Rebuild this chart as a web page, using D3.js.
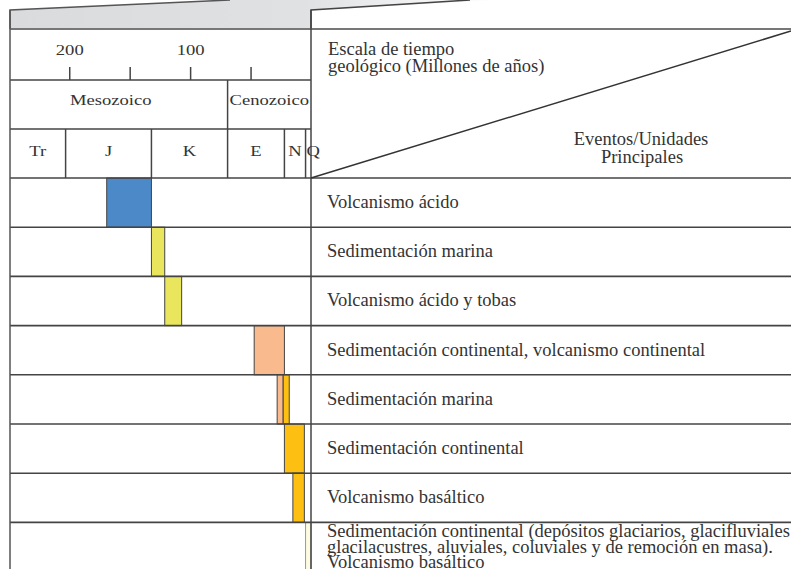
<!DOCTYPE html>
<html>
<head>
<meta charset="utf-8">
<script src="https://cdn.jsdelivr.net/npm/d3@7"></script>
<style>
  body { margin: 0; background: #fff; }
  text { font-family: "Liberation Serif", "Times New Roman", serif; fill: #333; }
</style>
</head>
<body>
<script>
// data
var periodNames = ["Tr", "J", "K", "E", "N", "Q"];
var periodFrom = [249, 203, 132, 69, 22, 4.5];
var periodTo = [203, 132, 69, 22, 4.5, 0];
var eraNames = ["Mesozoico", "Cenozoico"];
var eraFrom = [249, 69];
var eraTo = [69, 0];
var tickMa = [200, 150, 100, 50];
var tickLabels = ["200", "", "100", ""];
var events = [
  ["Volcanismo ácido"],
  ["Sedimentación marina"],
  ["Volcanismo ácido y tobas"],
  ["Sedimentación continental, volcanismo continental"],
  ["Sedimentación marina"],
  ["Sedimentación continental"],
  ["Volcanismo basáltico"],
  ["Sedimentación continental (depósitos glaciarios, glacifluviales",
   "glacilacustres, aluviales, coluviales y de remoción en masa).",
   "Volcanismo basáltico"]
];
var barRow = [0, 1, 2, 3, 4, 4, 5, 6, 7];
var barFrom = [169, 132, 121, 47, 28, 23, 22, 15, 4.5];
var barTo = [132, 121, 107, 22, 23, 18, 5.5, 5.5, 0];
var barPeriod = ["J", "K", "K", "E", "E", "N", "N", "N", "Q"];

// colours per period
var periodColor = d3.scaleOrdinal()
  .domain(["J", "K", "E", "N", "Q"])
  .range(["#4b89c9", "#e9e65e", "#f9bb8d", "#fdc012", "#fdfbe2"]);

var W = 791, H = 569;
var left = 10, mid = 311;
var rowH = 49.2;

var x = d3.scaleLinear().domain([249, 0]).range([left, mid]);
var y = d3.scaleBand().domain(d3.range(events.length))
  .range([178, 178 + events.length * rowH]);

var svg = d3.select("body").append("svg")
  .attr("width", W).attr("height", H);

// grey strip on top
var grad = svg.append("defs").append("linearGradient")
  .attr("id", "topg").attr("x1", 0).attr("x2", 1).attr("y1", 0).attr("y2", 0);
grad.append("stop").attr("offset", 0).attr("stop-color", "#dadbdd");
grad.append("stop").attr("offset", 0.6).attr("stop-color", "#e0e1e3");
grad.append("stop").attr("offset", 1).attr("stop-color", "#ffffff");

svg.append("path")
  .attr("d", "M10,10 L230,0 L500,0 L311,10 L311,29 L10,29 Z")
  .attr("fill", "url(#topg)");
svg.append("path")
  .attr("d", "M10,29 L10,10 L230,0")
  .attr("fill", "none").attr("stroke", "#555").attr("stroke-width", 1.5);
svg.append("path")
  .attr("d", "M311,29 L311,10 L470,0")
  .attr("fill", "none").attr("stroke", "#444").attr("stroke-width", 1.5);

// bars
svg.selectAll("rect.bar")
  .data(barRow)
  .enter()
  .append("rect")
  .attr("class", "bar")
  .attr("x", function(d, i) { return x(barFrom[i]); })
  .attr("width", function(d, i) { return x(barTo[i]) - x(barFrom[i]); })
  .attr("y", function(d) { return y(d); })
  .attr("height", y.bandwidth())
  .attr("fill", function(d, i) { return periodColor(barPeriod[i]); })
  .attr("stroke", function(d, i) { return barPeriod[i] == "Q" ? "#999" : "#444"; })
  .attr("stroke-width", 1);

// grid lines
function hline(yy, x2, col, w) {
  svg.append("line").attr("x1", left).attr("x2", x2)
    .attr("y1", yy).attr("y2", yy)
    .attr("stroke", col || "#444").attr("stroke-width", w || 1.6);
}
hline(29, W, "#777", 2);
hline(80, mid);
hline(129, mid);
hline(178, W);
d3.range(1, events.length).forEach(function(i) { hline(y(i), W); });

svg.append("line").attr("x1", left).attr("x2", left).attr("y1", 10).attr("y2", H)
  .attr("stroke", "#555").attr("stroke-width", 1.5);
svg.append("line").attr("x1", mid).attr("x2", mid).attr("y1", 10).attr("y2", H)
  .attr("stroke", "#444").attr("stroke-width", 1.5);

// era and period dividers
eraFrom.slice(1).forEach(function(a) {
  svg.append("line").attr("x1", x(a)).attr("x2", x(a)).attr("y1", 80).attr("y2", 129)
    .attr("stroke", "#444").attr("stroke-width", 1.5);
});
periodFrom.slice(1).forEach(function(a) {
  svg.append("line").attr("x1", x(a)).attr("x2", x(a)).attr("y1", 129).attr("y2", 178)
    .attr("stroke", "#444").attr("stroke-width", 1.5);
});

// time axis
var axis = svg.append("g")
  .attr("transform", "translate(0,80)")
  .call(d3.axisTop(x).tickValues(tickMa).tickSize(13).tickPadding(12)
    .tickFormat(function(d, i) { return tickLabels[i]; }));
axis.select(".domain").remove();
axis.selectAll(".tick line").attr("stroke", "#444").attr("stroke-width", 1.5);
axis.selectAll(".tick text")
  .attr("font-family", null)
  .attr("font-size", 15.5)
  .attr("fill", "#333")
  .attr("transform", "scale(1.2,1)");

// stretched header text
function label(tx, ty, str, anchor) {
  svg.append("text")
    .attr("transform", "translate(" + tx + "," + ty + ") scale(1.2,1)")
    .attr("text-anchor", anchor || "middle")
    .attr("font-size", 15.5)
    .text(str);
}
eraNames.forEach(function(n, i) {
  var c = (x(eraFrom[i]) + x(eraTo[i])) / 2;
  label(i == 0 ? c - 8 : c, 105, n);
});
periodNames.forEach(function(n, i) {
  var a = x(periodFrom[i]), b = x(periodTo[i]);
  if (b - a < 12) label(a + 1, 156, n, "start");
  else label((a + b) / 2, 156, n);
});

// right header
svg.append("line").attr("x1", mid).attr("y1", 178).attr("x2", W).attr("y2", 31)
  .attr("stroke", "#333").attr("stroke-width", 1.5);
svg.append("text").attr("x", 328).attr("y", 55).attr("font-size", 18.5).text("Escala de tiempo");
svg.append("text").attr("x", 328).attr("y", 72).attr("font-size", 18.5).text("geológico (Millones de años)");
svg.append("text").attr("x", 641).attr("y", 145).attr("font-size", 18.5)
  .attr("text-anchor", "middle").text("Eventos/Unidades");
svg.append("text").attr("x", 642).attr("y", 163).attr("font-size", 18.5)
  .attr("text-anchor", "middle").text("Principales");

// event names
events.forEach(function(lines, i) {
  var t = svg.append("text").attr("x", 327).attr("font-size", 18.5);
  if (lines.length == 1) {
    t.attr("y", y(i) + 30).text(lines[0]);
  } else {
    lines.forEach(function(s, k) {
      t.append("tspan").attr("x", 327).attr("y", y(i) + 14.5 + k * 15.6).text(s);
    });
  }
});
</script>
</body>
</html>
